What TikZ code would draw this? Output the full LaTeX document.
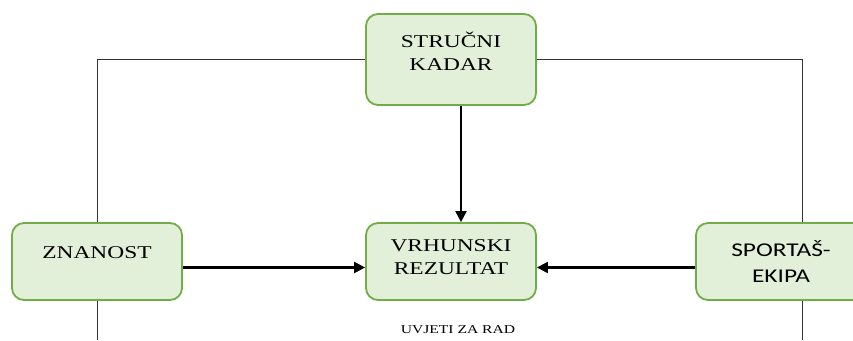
\documentclass[tikz,border=0pt]{standalone}
\usepackage{fontspec}
\setmainfont{Liberation Serif}[FakeStretch=1.3]
\newfontfamily\calibri{Carlito}[FakeStretch=1.3]
\usepackage{tikz}
\usetikzlibrary{arrows.meta, positioning, calc}
\definecolor{boxfill}{HTML}{E2EFD9}
\definecolor{boxline}{HTML}{70AD47}
\tikzset{
    box/.style={draw=boxline, fill=boxfill, line width=1.8pt, rounded corners=12pt,
        minimum width=170pt, minimum height=77pt, inner sep=0pt},
    label text/.style={align=center, font=\fontsize{18}{23}\selectfont, inner sep=0pt},
    frame line/.style={black!80, line width=0.8pt},
    main arrow/.style={line width=2.2pt, -{Triangle[length=11pt,width=11pt]}}
}

\begin{document}
\begin{tikzpicture}[x=1pt, y=-1pt]
    \useasboundingbox (0,0) rectangle (853,340);

    % Boxes
    \node[box, minimum height=91pt] (kadar) at (451,59.5) {};
    \node[box] (znanost) at (97,261.5) {};
    \node[box] (rezultat) at (451,261.5) {};
    \node[box] (sportas) at (781,261.5) {};

    % Box texts
    \node[label text] (kadartext) at ([yshift=8pt]kadar.center) {STRUČNI\\KADAR};
    \node[label text] (znanosttext) at ([yshift=8.5pt]znanost.center) {ZNANOST};
    \node[label text] (rezultattext) at ([yshift=4.5pt]rezultat.center) {VRHUNSKI\\REZULTAT};
    \node[label text, font=\calibri\fontsize{19.5}{26}\selectfont] (sportastext)
        at (sportas.center) {SPORTAŠ-\\EKIPA};

    % Frame of the working conditions
    \coordinate (rightline) at ([xshift=21pt]sportas.north);
    \draw[frame line] (kadar.west) -| (znanost.north);
    \draw[frame line] (kadar.east) -| (rightline);
    \draw[frame line] (znanost.south) -- (znanost.south |- 0,340);
    \draw[frame line] ([xshift=21pt]sportas.south) -- ([xshift=21pt]sportas.south |- 0,340);

    % Arrows into the result
    \draw[main arrow] ([xshift=10pt]kadar.south) -- ([xshift=10pt]rezultat.north);
    \draw[main arrow] ([yshift=-6pt]znanost.east) -- ([yshift=-6pt]rezultat.west);
    \draw[main arrow] ([yshift=-6pt]sportas.west) -- ([yshift=-6pt]rezultat.east);

    % Bottom caption
    \node[font=\fontsize{12}{14}\selectfont, inner sep=0pt] (uvjeti) at (458,330) {UVJETI ZA RAD};
\end{tikzpicture}
\end{document}
